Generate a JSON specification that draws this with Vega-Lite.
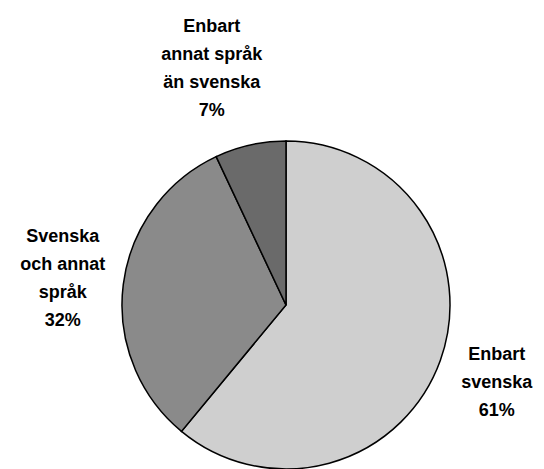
{
  "$schema": "https://vega.github.io/schema/vega-lite/v6.json",
  "width": 328,
  "height": 328,
  "autosize": "none",
  "padding": {"left": 122, "top": 141, "right": 94, "bottom": 0},
  "background": "white",
  "config": {"view": {"stroke": null}},
  "data": {
    "values": [
      {"category": "Enbart svenska", "value": 61, "ord": 1, "label": "Enbart\nsvenska\n61%"},
      {"category": "Svenska och annat språk", "value": 32, "ord": 2, "label": "Svenska\noch annat\nspråk\n32%"},
      {"category": "Enbart annat språk än svenska", "value": 7, "ord": 3, "label": "Enbart\nannat språk\nän svenska\n7%"}
    ]
  },
  "encoding": {
    "theta": {"field": "value", "type": "quantitative", "stack": true},
    "order": {"field": "ord", "type": "quantitative"}
  },
  "layer": [
    {
      "mark": {"type": "arc", "stroke": "black", "strokeWidth": 1.5},
      "encoding": {
        "color": {
          "field": "category",
          "type": "nominal",
          "scale": {
            "domain": ["Enbart svenska", "Svenska och annat språk", "Enbart annat språk än svenska"],
            "range": ["#cfcfcf", "#8a8a8a", "#6a6a6a"]
          },
          "legend": null
        }
      }
    },
    {
      "mark": {"type": "text", "radius": 224, "dy": -26, "lineBreak": "\n", "lineHeight": 28, "font": "Liberation Sans", "fontWeight": "bold", "fontSize": 18, "align": "center", "baseline": "middle", "color": "black"},
      "encoding": {"text": {"condition": {"test": "datum.ord == 1", "field": "label"}, "value": ""}}
    },
    {
      "mark": {"type": "text", "radius": 225, "dy": -40, "lineBreak": "\n", "lineHeight": 28, "font": "Liberation Sans", "fontWeight": "bold", "fontSize": 18, "align": "center", "baseline": "middle", "color": "black"},
      "encoding": {"text": {"condition": {"test": "datum.ord == 2", "field": "label"}, "value": ""}}
    },
    {
      "mark": {"type": "text", "radius": 285, "dx": -12, "lineBreak": "\n", "lineHeight": 28, "font": "Liberation Sans", "fontWeight": "bold", "fontSize": 18, "align": "center", "baseline": "middle", "color": "black"},
      "encoding": {"text": {"condition": {"test": "datum.ord == 3", "field": "label"}, "value": ""}}
    }
  ]
}
